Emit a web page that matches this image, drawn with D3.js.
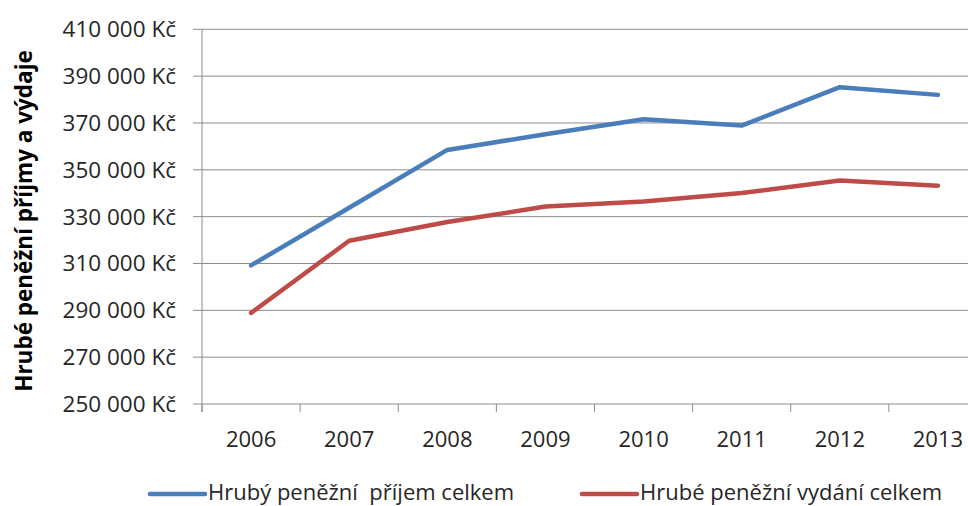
<!DOCTYPE html>
<html lang="cs">
<head>
<meta charset="UTF-8">
<title>Hrubé peněžní příjmy a výdaje</title>
<script src="https://d3js.org/d3.v7.min.js"></script>
<style>
    body { margin: 0; background: #fff; font-family: "Open Sans", Arial, sans-serif; }
    svg text { fill: #262626; }
</style>
</head>
<body>
<div id="chart"></div>
<script>
    const years = ["2006", "2007", "2008", "2009", "2010", "2011", "2012", "2013"];
    const incomeValues = [309200, 333800, 358500, 365200, 371600, 368900, 385300, 382000];
    const spendingValues = [288900, 319700, 327700, 334300, 336500, 340100, 345400, 343200];
    const yTicks = [250000, 270000, 290000, 310000, 330000, 350000, 370000, 390000, 410000];
    const seriesNames = ["Hrubý peněžní  příjem celkem", "Hrubé peněžní vydání celkem"];
    const seriesColors = ["#4a7ebb", "#be4b48"];

    const width = 968, height = 506;
    // plot area runs past the right edge of the picture, like the original crop
    const plotLeft = 202, plotRight = 987, plotTop = 29.3, plotBottom = 404;

    const svg = d3.select("#chart").append("svg")
        .attr("width", width)
        .attr("height", height);

    const x = d3.scaleBand().domain(years).range([plotLeft, plotRight]);
    const y = d3.scaleLinear().domain([250000, 410000]).range([plotBottom, plotTop]);

    const fmt = v => d3.format(",")(v).replace(/,/g, " ") + " Kč";

    // gridlines
    svg.append("g")
        .selectAll("line")
        .data(yTicks)
        .enter().append("line")
        .attr("x1", plotLeft - 9)
        .attr("x2", plotRight)
        .attr("y1", d => y(d))
        .attr("y2", d => y(d))
        .attr("stroke", "#8c8c8c")
        .attr("stroke-width", 1);

    // y axis line
    svg.append("line")
        .attr("x1", plotLeft).attr("x2", plotLeft)
        .attr("y1", plotTop).attr("y2", plotBottom + 8)
        .attr("stroke", "#8c8c8c");

    // x tick marks at band edges
    svg.append("g")
        .selectAll("line")
        .data(years)
        .enter().append("line")
        .attr("x1", d => x(d))
        .attr("x2", d => x(d))
        .attr("y1", plotBottom)
        .attr("y2", plotBottom + 8)
        .attr("stroke", "#8c8c8c");

    // y tick labels
    svg.append("g")
        .selectAll("text")
        .data(yTicks)
        .enter().append("text")
        .attr("x", 176)
        .attr("y", d => y(d))
        .attr("dy", "0.35em")
        .attr("text-anchor", "end")
        .style("font-size", "22.5px")
        .text(fmt);

    // x tick labels
    svg.append("g")
        .selectAll("text")
        .data(years)
        .enter().append("text")
        .attr("x", d => x(d) + x.bandwidth() / 2)
        .attr("y", 447)
        .attr("text-anchor", "middle")
        .style("font-size", "22px")
        .text(d => d);

    // axis title
    svg.append("text")
        .attr("transform", "translate(32,221) rotate(-90)")
        .attr("text-anchor", "middle")
        .style("font-size", "22.5px")
        .style("font-weight", "bold")
        .style("fill", "#000")
        .text("Hrubé peněžní příjmy a výdaje");

    const line = d3.line()
        .x((d, i) => x(years[i]) + x.bandwidth() / 2)
        .y(d => y(d));

    [incomeValues, spendingValues].forEach((vals, i) => {
        svg.append("path")
            .datum(vals)
            .attr("d", line)
            .attr("fill", "none")
            .attr("stroke", seriesColors[i])
            .attr("stroke-width", 4.5)
            .attr("stroke-linejoin", "round")
            .attr("stroke-linecap", "round");
    });

    // legend (sits at the very bottom edge, as in the original)
    const legendX = [150, 582];
    const legend = svg.append("g")
        .selectAll("g")
        .data(seriesNames)
        .enter().append("g")
        .attr("transform", (d, i) => `translate(${legendX[i]},494)`);

    legend.append("line")
        .attr("x1", 0).attr("x2", 55)
        .attr("stroke", (d, i) => seriesColors[i])
        .attr("stroke-width", 4.5)
        .attr("stroke-linecap", "round");

    legend.append("text")
        .attr("x", 58)
        .attr("y", 6)
        .style("font-size", "22px")
        .style("white-space", "pre")
        .text(d => d);
</script>
</body>
</html>
